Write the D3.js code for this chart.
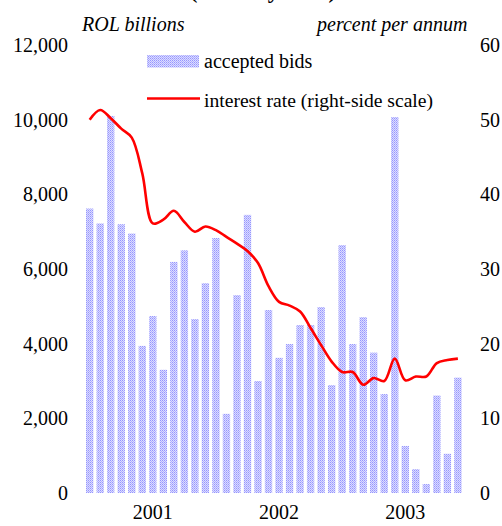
<!DOCTYPE html>
<html>
<head>
<meta charset="utf-8">
<script src="https://cdn.jsdelivr.net/npm/d3@7"></script>
<style>
  html, body { margin: 0; padding: 0; background: #ffffff; }
  svg { display: block; }
  svg text { font-family: "Liberation Serif", "Tinos", "Times New Roman", Times, "DejaVu Serif", serif; fill: #000; }
</style>
</head>
<body>
<script>
// ---- data ----
const months = [
  "2000-07","2000-08","2000-09","2000-10","2000-11","2000-12",
  "2001-01","2001-02","2001-03","2001-04","2001-05","2001-06",
  "2001-07","2001-08","2001-09","2001-10","2001-11","2001-12",
  "2002-01","2002-02","2002-03","2002-04","2002-05","2002-06",
  "2002-07","2002-08","2002-09","2002-10","2002-11","2002-12",
  "2003-01","2003-02","2003-03","2003-04","2003-05","2003-06"
];
const acceptedBids = [
  7620, 7220, 10100, 7200, 6950, 3940,
  4740, 3300, 6190, 6500, 4660, 5620,
  6830, 2120, 5300, 7450, 3000, 4900,
  3620, 3990, 4500, 4500, 4980, 2890,
  6640, 3990, 4710, 3760, 2650, 10070,
  1260, 640, 240, 2610, 1050, 3090
];
const interestRate = [
  50.0, 51.3, 50.2, 48.8, 47.6, 42.8,
  36.1, 36.6, 37.8, 36.3, 35.0, 35.7,
  35.2, 34.3, 33.4, 32.4, 30.8, 27.7,
  25.6, 25.1, 24.3, 22.1, 19.8, 17.6,
  16.2, 16.2, 14.5, 15.4, 15.0, 18.0,
  15.1, 15.6, 15.6, 17.4, 17.8, 18.0
];
const leftTicks = [0, 2000, 4000, 6000, 8000, 10000, 12000];
const rightTicks = [0, 10, 20, 30, 40, 50, 60];
const yearTicks = [
  { month: "2001-01", label: "2001" },
  { month: "2002-01", label: "2002" },
  { month: "2003-01", label: "2003" }
];
const titleText = "(monthly data)";
const leftUnit = "ROL billions";
const rightUnit = "percent per annum";
const legendLabels = ["accepted bids", "interest rate (right-side scale)"];

// ---- layout ----
const W = 502, H = 526;
const FONT = '"Liberation Serif", "Tinos", "Times New Roman", Times, "DejaVu Serif", serif';
const svg = d3.select("body").append("svg").attr("width", W).attr("height", H)
  .attr("font-family", FONT);

const defs = svg.append("defs");
const pat = defs.append("pattern")
  .attr("id", "dots").attr("patternUnits", "userSpaceOnUse")
  .attr("width", 2).attr("height", 2);
pat.append("rect").attr("width", 2).attr("height", 2).attr("fill", "#dcdcff");
pat.append("rect").attr("x", 0).attr("y", 0).attr("width", 1).attr("height", 1).attr("fill", "#9595ff");
pat.append("rect").attr("x", 1).attr("y", 1).attr("width", 1).attr("height", 1).attr("fill", "#b0b0ff");

const step = 10.52;
const x0 = 86 - 0.15 * step;
const x = d3.scaleBand().domain(months)
  .range([x0, x0 + months.length * step])
  .paddingInner(0.3).paddingOuter(0.15);

const yL = d3.scaleLinear().domain([0, 12000]).range([493, 45]);
const yR = d3.scaleLinear().domain([0, 60]).range([493, 45]);

// title (cut off at top, as in the reference)
svg.append("text").attr("x", 263).attr("y", -2)
  .attr("text-anchor", "middle").attr("font-size", 23).attr("font-weight", "bold")
  .text(titleText);

// unit labels
svg.append("text").attr("x", 82).attr("y", 31)
  .attr("font-size", 20).attr("font-style", "italic").text(leftUnit);
svg.append("text").attr("x", 317).attr("y", 31)
  .attr("font-size", 20).attr("font-style", "italic").text(rightUnit);

// bars
svg.append("g").selectAll("rect").data(months).join("rect")
  .attr("x", d => x(d))
  .attr("width", x.bandwidth())
  .attr("y", (d, i) => yL(acceptedBids[i]))
  .attr("height", (d, i) => yL(0) - yL(acceptedBids[i]))
  .attr("fill", "url(#dots)");

// line
const line = d3.line()
  .x((d, i) => x(months[i]) + x.bandwidth() / 2)
  .y(d => yR(d))
  .curve(d3.curveCatmullRom.alpha(0.5));
svg.append("path").datum(interestRate)
  .attr("d", line)
  .attr("fill", "none").attr("stroke", "#ff0000").attr("stroke-width", 2.6)
  .attr("stroke-linejoin", "round");

function styleAxis(g) {
  g.attr("font-family", FONT).attr("font-size", 20);
  g.select(".domain").remove();
  g.selectAll("text").attr("fill", "#000");
}

// left axis
svg.append("g").attr("transform", "translate(68,0)")
  .call(d3.axisLeft(yL).tickValues(leftTicks).tickSize(0).tickPadding(0)
    .tickFormat(d3.format(",")))
  .call(styleAxis);

// right axis
svg.append("g").attr("transform", "translate(480,0)")
  .call(d3.axisRight(yR).tickValues(rightTicks).tickSize(0).tickPadding(0))
  .call(styleAxis);

// x axis labels
svg.append("g").attr("transform", "translate(0,505)")
  .call(d3.axisBottom(x).tickValues(yearTicks.map(d => d.month))
    .tickFormat(m => yearTicks.find(t => t.month === m).label)
    .tickSize(0).tickPadding(0))
  .call(styleAxis);

// legend
svg.append("rect").attr("x", 147).attr("y", 55).attr("width", 52).attr("height", 12.5)
  .attr("fill", "url(#dots)");
svg.append("text").attr("x", 204).attr("y", 68).attr("font-size", 20).text(legendLabels[0]);
svg.append("line").attr("x1", 147).attr("x2", 200).attr("y1", 98.5).attr("y2", 98.5)
  .attr("stroke", "#ff0000").attr("stroke-width", 2.6);
svg.append("text").attr("x", 204).attr("y", 107).attr("font-size", 19.6).text(legendLabels[1]);
</script>
</body>
</html>
